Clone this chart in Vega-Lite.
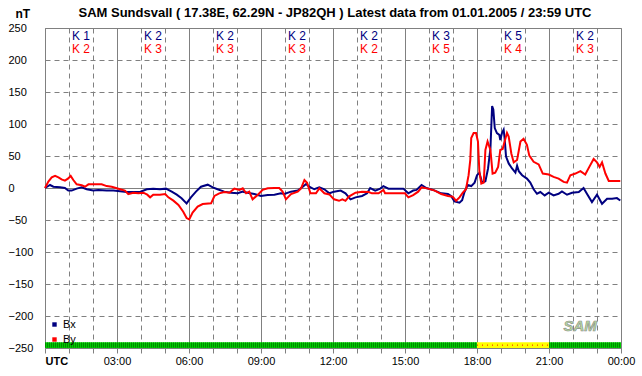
{
  "$schema": "https://vega.github.io/schema/vega-lite/v6.json",
  "width": 576,
  "height": 320,
  "autosize": "none",
  "padding": {"left": 45, "top": 28, "right": 21, "bottom": 28},
  "background": "white",
  "config": {
    "font": "Liberation Sans",
    "view": {"stroke": "#808080", "strokeWidth": 1},
    "axis": {"labelFont": "Liberation Sans", "labelColor": "black", "gridColor": "#808080", "gridOpacity": 1, "gridWidth": 1}
  },
  "title": {
    "text": "SAM Sundsvall ( 17.38E, 62.29N - JP82QH ) Latest data from 01.01.2005 / 23:59 UTC",
    "font": "Liberation Sans",
    "fontSize": 13,
    "fontWeight": "bold",
    "color": "black",
    "anchor": "middle",
    "frame": "group",
    "offset": 0,
    "dy": 13,
    "dx": 2
  },
  "resolve": {"axis": {"x": "independent", "y": "independent"}},
  "datasets": {
    "mag": [
      {"t":0,"v":0,"s":"Bx"},{"t":0.21,"v":4.7,"s":"Bx"},{"t":0.35,"v":2,"s":"Bx"},{"t":0.63,"v":1,"s":"Bx"},{"t":0.83,"v":0,"s":"Bx"},{"t":0.97,"v":-4,"s":"Bx"},{"t":1.11,"v":-4,"s":"Bx"},{"t":1.32,"v":-1,"s":"Bx"},{"t":1.53,"v":1,"s":"Bx"},{"t":1.74,"v":-2,"s":"Bx"},{"t":2.01,"v":-4,"s":"Bx"},{"t":2.22,"v":-3,"s":"Bx"},{"t":2.57,"v":-4,"s":"Bx"},{"t":2.85,"v":-4,"s":"Bx"},{"t":3.13,"v":-5,"s":"Bx"},{"t":3.4,"v":-6.3,"s":"Bx"},{"t":3.68,"v":-6.3,"s":"Bx"},{"t":3.96,"v":-6.3,"s":"Bx"},{"t":4.24,"v":-2,"s":"Bx"},{"t":4.51,"v":-1,"s":"Bx"},{"t":4.79,"v":-2,"s":"Bx"},{"t":5.04,"v":-1,"s":"Bx"},{"t":5.28,"v":-5.7,"s":"Bx"},{"t":5.49,"v":-10.4,"s":"Bx"},{"t":5.69,"v":-16,"s":"Bx"},{"t":5.9,"v":-24,"s":"Bx"},{"t":6.08,"v":-14.6,"s":"Bx"},{"t":6.29,"v":-5.7,"s":"Bx"},{"t":6.5,"v":2,"s":"Bx"},{"t":6.78,"v":5.2,"s":"Bx"},{"t":6.99,"v":1,"s":"Bx"},{"t":7.19,"v":-2,"s":"Bx"},{"t":7.47,"v":-5.7,"s":"Bx"},{"t":7.75,"v":-7.3,"s":"Bx"},{"t":8.03,"v":-8.3,"s":"Bx"},{"t":8.24,"v":-5.7,"s":"Bx"},{"t":8.44,"v":-7.3,"s":"Bx"},{"t":8.72,"v":-9.4,"s":"Bx"},{"t":9.0,"v":-12.5,"s":"Bx"},{"t":9.28,"v":-11,"s":"Bx"},{"t":9.56,"v":-10.4,"s":"Bx"},{"t":9.83,"v":-8.3,"s":"Bx"},{"t":9.97,"v":-9.4,"s":"Bx"},{"t":10.25,"v":-5.7,"s":"Bx"},{"t":10.53,"v":-4,"s":"Bx"},{"t":10.74,"v":2,"s":"Bx"},{"t":10.88,"v":6.3,"s":"Bx"},{"t":11.01,"v":2,"s":"Bx"},{"t":11.22,"v":-2,"s":"Bx"},{"t":11.43,"v":1,"s":"Bx"},{"t":11.64,"v":-2,"s":"Bx"},{"t":11.85,"v":-8.3,"s":"Bx"},{"t":12.04,"v":-5.7,"s":"Bx"},{"t":12.32,"v":-4,"s":"Bx"},{"t":12.52,"v":-8.3,"s":"Bx"},{"t":12.73,"v":-17.7,"s":"Bx"},{"t":12.94,"v":-14.6,"s":"Bx"},{"t":13.21,"v":-12.5,"s":"Bx"},{"t":13.42,"v":-8.3,"s":"Bx"},{"t":13.55,"v":0,"s":"Bx"},{"t":13.76,"v":-4,"s":"Bx"},{"t":13.97,"v":-1,"s":"Bx"},{"t":14.1,"v":3,"s":"Bx"},{"t":14.31,"v":-1,"s":"Bx"},{"t":14.59,"v":-1,"s":"Bx"},{"t":14.93,"v":-1,"s":"Bx"},{"t":15.14,"v":-8.3,"s":"Bx"},{"t":15.34,"v":-4,"s":"Bx"},{"t":15.48,"v":-3,"s":"Bx"},{"t":15.69,"v":4.7,"s":"Bx"},{"t":15.89,"v":0,"s":"Bx"},{"t":16.17,"v":-3,"s":"Bx"},{"t":16.51,"v":-8.3,"s":"Bx"},{"t":16.79,"v":-9.4,"s":"Bx"},{"t":16.92,"v":-12.5,"s":"Bx"},{"t":17.06,"v":-21,"s":"Bx"},{"t":17.27,"v":-23,"s":"Bx"},{"t":17.38,"v":-19,"s":"Bx"},{"t":17.47,"v":-7.3,"s":"Bx"},{"t":17.61,"v":4.7,"s":"Bx"},{"t":17.76,"v":3,"s":"Bx"},{"t":17.9,"v":8.4,"s":"Bx"},{"t":18.0,"v":20,"s":"Bx"},{"t":18.1,"v":24,"s":"Bx"},{"t":18.21,"v":8.4,"s":"Bx"},{"t":18.35,"v":10.5,"s":"Bx"},{"t":18.46,"v":30.5,"s":"Bx"},{"t":18.56,"v":62,"s":"Bx"},{"t":18.63,"v":128,"s":"Bx"},{"t":18.68,"v":122.6,"s":"Bx"},{"t":18.74,"v":93.7,"s":"Bx"},{"t":18.83,"v":85.8,"s":"Bx"},{"t":18.93,"v":83,"s":"Bx"},{"t":18.97,"v":75,"s":"Bx"},{"t":19.04,"v":85.8,"s":"Bx"},{"t":19.11,"v":91,"s":"Bx"},{"t":19.15,"v":78,"s":"Bx"},{"t":19.21,"v":49,"s":"Bx"},{"t":19.32,"v":38.4,"s":"Bx"},{"t":19.46,"v":30.5,"s":"Bx"},{"t":19.6,"v":24,"s":"Bx"},{"t":19.67,"v":34.7,"s":"Bx"},{"t":19.74,"v":26.3,"s":"Bx"},{"t":19.88,"v":20,"s":"Bx"},{"t":20.08,"v":14.7,"s":"Bx"},{"t":20.22,"v":8.4,"s":"Bx"},{"t":20.36,"v":-2,"s":"Bx"},{"t":20.5,"v":-9,"s":"Bx"},{"t":20.64,"v":-6.3,"s":"Bx"},{"t":20.82,"v":-11.6,"s":"Bx"},{"t":20.99,"v":-7.4,"s":"Bx"},{"t":21.19,"v":-11.6,"s":"Bx"},{"t":21.4,"v":-9,"s":"Bx"},{"t":21.54,"v":-5.3,"s":"Bx"},{"t":21.75,"v":-10.5,"s":"Bx"},{"t":21.96,"v":-7.4,"s":"Bx"},{"t":22.24,"v":-6.3,"s":"Bx"},{"t":22.44,"v":0,"s":"Bx"},{"t":22.58,"v":-9,"s":"Bx"},{"t":22.79,"v":-22,"s":"Bx"},{"t":23.0,"v":-10.5,"s":"Bx"},{"t":23.21,"v":-24.7,"s":"Bx"},{"t":23.42,"v":-16.8,"s":"Bx"},{"t":23.63,"v":-16.8,"s":"Bx"},{"t":23.83,"v":-15.8,"s":"Bx"},{"t":23.97,"v":-19.5,"s":"Bx"},
      {"t":0,"v":0,"s":"By"},{"t":0.14,"v":10,"s":"By"},{"t":0.28,"v":16.7,"s":"By"},{"t":0.42,"v":19,"s":"By"},{"t":0.56,"v":16.7,"s":"By"},{"t":0.69,"v":13.5,"s":"By"},{"t":0.83,"v":11.5,"s":"By"},{"t":0.97,"v":15,"s":"By"},{"t":1.07,"v":19,"s":"By"},{"t":1.18,"v":12.5,"s":"By"},{"t":1.32,"v":5.7,"s":"By"},{"t":1.53,"v":4.2,"s":"By"},{"t":1.67,"v":2,"s":"By"},{"t":1.81,"v":5.7,"s":"By"},{"t":2.01,"v":5.7,"s":"By"},{"t":2.36,"v":5.7,"s":"By"},{"t":2.57,"v":3,"s":"By"},{"t":2.78,"v":2,"s":"By"},{"t":2.99,"v":-0.5,"s":"By"},{"t":3.13,"v":-2,"s":"By"},{"t":3.33,"v":-4,"s":"By"},{"t":3.47,"v":-9.4,"s":"By"},{"t":3.68,"v":-7.3,"s":"By"},{"t":3.89,"v":-8.3,"s":"By"},{"t":4.1,"v":-7.3,"s":"By"},{"t":4.26,"v":-10.4,"s":"By"},{"t":4.38,"v":-14.6,"s":"By"},{"t":4.51,"v":-10.4,"s":"By"},{"t":4.79,"v":-10.4,"s":"By"},{"t":5.01,"v":-9.4,"s":"By"},{"t":5.14,"v":-14.6,"s":"By"},{"t":5.35,"v":-19.8,"s":"By"},{"t":5.56,"v":-26.6,"s":"By"},{"t":5.76,"v":-37,"s":"By"},{"t":5.9,"v":-47,"s":"By"},{"t":6.01,"v":-49,"s":"By"},{"t":6.15,"v":-38.5,"s":"By"},{"t":6.36,"v":-29,"s":"By"},{"t":6.57,"v":-25,"s":"By"},{"t":6.92,"v":-24,"s":"By"},{"t":7.06,"v":-12.5,"s":"By"},{"t":7.26,"v":-8.3,"s":"By"},{"t":7.47,"v":-6.3,"s":"By"},{"t":7.68,"v":-7.3,"s":"By"},{"t":7.89,"v":-1,"s":"By"},{"t":8.1,"v":-3,"s":"By"},{"t":8.24,"v":-0.5,"s":"By"},{"t":8.38,"v":-8.3,"s":"By"},{"t":8.51,"v":-5.7,"s":"By"},{"t":8.65,"v":-17.7,"s":"By"},{"t":8.86,"v":-11,"s":"By"},{"t":9.07,"v":-3,"s":"By"},{"t":9.28,"v":-0.5,"s":"By"},{"t":9.56,"v":0,"s":"By"},{"t":9.76,"v":0,"s":"By"},{"t":9.9,"v":-5.7,"s":"By"},{"t":10.04,"v":-17.7,"s":"By"},{"t":10.25,"v":-9.4,"s":"By"},{"t":10.53,"v":-5.7,"s":"By"},{"t":10.67,"v":-0.5,"s":"By"},{"t":10.81,"v":12.5,"s":"By"},{"t":10.92,"v":8.3,"s":"By"},{"t":11.06,"v":-8.3,"s":"By"},{"t":11.29,"v":-8.3,"s":"By"},{"t":11.43,"v":-0.5,"s":"By"},{"t":11.64,"v":-8.3,"s":"By"},{"t":11.85,"v":-10,"s":"By"},{"t":12.04,"v":-17.7,"s":"By"},{"t":12.25,"v":-20,"s":"By"},{"t":12.39,"v":-17.7,"s":"By"},{"t":12.52,"v":-20,"s":"By"},{"t":12.66,"v":-13.5,"s":"By"},{"t":12.94,"v":-7.3,"s":"By"},{"t":13.21,"v":-5.7,"s":"By"},{"t":13.49,"v":-6.3,"s":"By"},{"t":13.62,"v":-8.3,"s":"By"},{"t":13.9,"v":-8.3,"s":"By"},{"t":14.1,"v":-3,"s":"By"},{"t":14.17,"v":-8.3,"s":"By"},{"t":14.59,"v":-8.3,"s":"By"},{"t":15.0,"v":-8.3,"s":"By"},{"t":15.14,"v":-14.6,"s":"By"},{"t":15.34,"v":-11,"s":"By"},{"t":15.55,"v":-5.7,"s":"By"},{"t":15.69,"v":1,"s":"By"},{"t":15.96,"v":-1,"s":"By"},{"t":16.24,"v":-4,"s":"By"},{"t":16.51,"v":-9.4,"s":"By"},{"t":16.79,"v":-12.5,"s":"By"},{"t":16.99,"v":-13.5,"s":"By"},{"t":17.13,"v":-20,"s":"By"},{"t":17.27,"v":-14.6,"s":"By"},{"t":17.41,"v":-7.3,"s":"By"},{"t":17.54,"v":-2,"s":"By"},{"t":17.65,"v":20,"s":"By"},{"t":17.72,"v":44,"s":"By"},{"t":17.76,"v":78,"s":"By"},{"t":17.86,"v":86,"s":"By"},{"t":17.96,"v":86,"s":"By"},{"t":18.04,"v":72.6,"s":"By"},{"t":18.1,"v":25,"s":"By"},{"t":18.18,"v":7,"s":"By"},{"t":18.28,"v":8.4,"s":"By"},{"t":18.35,"v":59.5,"s":"By"},{"t":18.44,"v":72.6,"s":"By"},{"t":18.56,"v":59.5,"s":"By"},{"t":18.65,"v":22.6,"s":"By"},{"t":18.76,"v":24,"s":"By"},{"t":18.88,"v":33,"s":"By"},{"t":18.97,"v":59.5,"s":"By"},{"t":19.07,"v":61,"s":"By"},{"t":19.15,"v":72.6,"s":"By"},{"t":19.25,"v":86,"s":"By"},{"t":19.32,"v":80.5,"s":"By"},{"t":19.43,"v":54,"s":"By"},{"t":19.53,"v":40,"s":"By"},{"t":19.67,"v":43.7,"s":"By"},{"t":19.81,"v":72.6,"s":"By"},{"t":19.94,"v":76.8,"s":"By"},{"t":20.08,"v":67.4,"s":"By"},{"t":20.18,"v":50.5,"s":"By"},{"t":20.36,"v":41,"s":"By"},{"t":20.57,"v":36.8,"s":"By"},{"t":20.74,"v":22.6,"s":"By"},{"t":20.99,"v":21,"s":"By"},{"t":21.19,"v":17.4,"s":"By"},{"t":21.4,"v":14.7,"s":"By"},{"t":21.61,"v":9.5,"s":"By"},{"t":21.75,"v":8.4,"s":"By"},{"t":21.89,"v":20,"s":"By"},{"t":22.1,"v":22.6,"s":"By"},{"t":22.31,"v":26.3,"s":"By"},{"t":22.51,"v":21,"s":"By"},{"t":22.68,"v":33,"s":"By"},{"t":22.86,"v":45.3,"s":"By"},{"t":23.0,"v":40,"s":"By"},{"t":23.11,"v":33,"s":"By"},{"t":23.21,"v":40,"s":"By"},{"t":23.35,"v":22.6,"s":"By"},{"t":23.49,"v":11,"s":"By"},{"t":23.76,"v":11,"s":"By"},{"t":23.97,"v":11,"s":"By"}
    ],
    "kindex": [
      {"t":1.5,"s":"Bx","k":"K 1"},{"t":4.5,"s":"Bx","k":"K 2"},{"t":7.5,"s":"Bx","k":"K 2"},{"t":10.5,"s":"Bx","k":"K 2"},{"t":13.5,"s":"Bx","k":"K 2"},{"t":16.5,"s":"Bx","k":"K 3"},{"t":19.5,"s":"Bx","k":"K 5"},{"t":22.5,"s":"Bx","k":"K 2"},
      {"t":1.5,"s":"By","k":"K 2"},{"t":4.5,"s":"By","k":"K 3"},{"t":7.5,"s":"By","k":"K 3"},{"t":10.5,"s":"By","k":"K 3"},{"t":13.5,"s":"By","k":"K 2"},{"t":16.5,"s":"By","k":"K 5"},{"t":19.5,"s":"By","k":"K 4"},{"t":22.5,"s":"By","k":"K 3"}
    ],
    "status": [
      {"t0":0,"t1":18,"status":"quiet"},{"t0":18,"t1":21,"status":"active"},{"t0":21,"t1":24,"status":"quiet"}
    ],
    "logo": [{"name": "SAM"}]
  },
  "layer": [
    {
      "data": {"name": "mag"},
      "mark": {"type": "line", "strokeWidth": 2},
      "encoding": {
        "x": {
          "field": "t", "type": "quantitative",
          "scale": {"domain": [0, 24], "nice": false, "zero": false},
          "axis": {
            "values": [0,1,2,3,4,5,6,7,8,9,10,11,12,13,14,15,16,17,18,19,20,21,22,23,24],
            "grid": true,
            "gridDash": {"condition": {"test": "datum.value % 3 === 0", "value": []}, "value": [5, 4]},
            "domain": false,
            "ticks": true,
            "tickSize": 5,
            "tickColor": "#808080",
            "labelExpr": "datum.value === 0 ? 'UTC' : (datum.value % 3 === 0 ? ((datum.value % 24) < 10 ? '0' : '') + (datum.value % 24) + ':00' : '')",
            "labelFontSize": 11,
            "labelPadding": 2,
            "labelFontWeight": {"condition": {"test": "datum.value === 0", "value": "bold"}, "value": "normal"},
            "labelAlign": {"condition": {"test": "datum.value === 0", "value": "left"}, "value": "center"},
            "labelOverlap": false,
            "labelFlush": false,
            "labelBound": false,
            "title": null
          }
        },
        "y": {
          "field": "v", "type": "quantitative",
          "scale": {"domain": [-250, 250], "nice": false, "zero": false},
          "axis": {
            "values": [-250,-200,-150,-100,-50,0,50,100,150,200,250],
            "grid": true,
            "gridDash": {"condition": {"test": "datum.value === 0", "value": []}, "value": [5, 4]},
            "domain": false,
            "ticks": false,
            "tickSize": 0,
            "labelAlign": "left",
            "labelPadding": 37,
            "labelFontSize": 11,
            "labelOverlap": false,
            "labelFlush": false,
            "labelBound": false,
            "title": "nT",
            "titleAngle": 0,
            "titleX": -30,
            "titleY": -11,
            "titleAlign": "left",
            "titleBaseline": "alphabetic",
            "titleFontSize": 12,
            "titleFontWeight": "bold",
            "titleFont": "Liberation Sans",
            "titleColor": "black"
          }
        },
        "color": {
          "field": "s", "type": "nominal",
          "scale": {"domain": ["Bx", "By"], "range": ["#000080", "#ff0000"]},
          "legend": {
            "orient": "none", "legendX": 4, "legendY": 291, "title": null,
            "symbolType": "square", "symbolSize": 2, "symbolStrokeWidth": 3,
            "labelFontSize": 11, "labelOffset": 3, "rowPadding": 0, "padding": 0,
            "labelFont": "Liberation Sans", "labelColor": "black"
          }
        }
      }
    },
    {
      "data": {"name": "status"},
      "mark": {"type": "rect"},
      "encoding": {
        "x": {"field": "t0", "type": "quantitative", "axis": null},
        "x2": {"field": "t1"},
        "y": {"datum": -250, "type": "quantitative", "axis": null},
        "y2": {"datum": -241},
        "fill": {"field": "status", "type": "nominal", "scale": {"domain": ["quiet", "active"], "range": ["#00cc00", "#ffff00"]}, "legend": null}
      }
    },
    {
      "data": {"name": "status"},
      "transform": [{"filter": "datum.status === 'quiet'"}],
      "mark": {"type": "rule", "color": "#008a00", "strokeWidth": 5, "strokeDash": [1, 1]},
      "encoding": {
        "x": {"field": "t0", "type": "quantitative", "axis": null},
        "x2": {"field": "t1"},
        "y": {"datum": -245.5, "type": "quantitative", "axis": null}
      }
    },
    {
      "data": {"name": "status"},
      "transform": [{"filter": "datum.status === 'active'"}],
      "mark": {"type": "rule", "color": "#ff0000", "strokeWidth": 1, "strokeDash": [1, 4]},
      "encoding": {
        "x": {"field": "t0", "type": "quantitative", "axis": null},
        "x2": {"field": "t1"},
        "y": {"datum": -245.5, "type": "quantitative", "axis": null}
      }
    },
    {
      "data": {"name": "kindex"},
      "transform": [{"filter": "datum.s === 'Bx'"}],
      "mark": {"type": "text", "fontSize": 12, "fill": "#000080", "baseline": "middle", "align": "center"},
      "encoding": {
        "x": {"field": "t", "type": "quantitative", "axis": null},
        "y": {"datum": 237, "type": "quantitative", "axis": null},
        "text": {"field": "k", "type": "nominal"}
      }
    },
    {
      "data": {"name": "kindex"},
      "transform": [{"filter": "datum.s === 'By'"}],
      "mark": {"type": "text", "fontSize": 12, "fill": "#ff0000", "baseline": "middle", "align": "center"},
      "encoding": {
        "x": {"field": "t", "type": "quantitative", "axis": null},
        "y": {"datum": 217, "type": "quantitative", "axis": null},
        "text": {"field": "k", "type": "nominal"}
      }
    },
    {
      "data": {"name": "logo"},
      "mark": {"type": "text", "fontSize": 15, "fontStyle": "italic", "fontWeight": "bold", "fill": "#b8dca0", "stroke": "#8a8a8a", "strokeWidth": 0.6, "align": "center", "baseline": "middle"},
      "encoding": {
        "x": {"datum": 22.3, "type": "quantitative", "axis": null},
        "y": {"datum": -216, "type": "quantitative", "axis": null},
        "text": {"field": "name", "type": "nominal"}
      }
    }
  ]
}
